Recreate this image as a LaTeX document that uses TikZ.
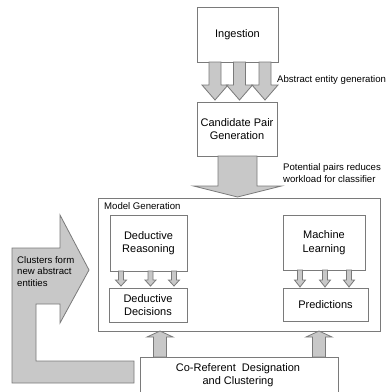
\documentclass[tikz,border=0pt]{standalone}
\usepackage{fontspec}
\setmainfont{Liberation Sans}
\newcommand{\varrow}[7]{%
  \filldraw[#7] ({#1-#5},#2) -- ({#1-#5},#3) -- ({#1-#6},#3) -- (#1,#4) -- ({#1+#6},#3) -- ({#1+#5},#3) -- ({#1+#5},#2) -- cycle;}
\begin{document}
\begin{tikzpicture}[x=1pt,y=-1pt,
  box/.style={draw=boxline, line width=0.9pt, fill=white, align=center, inner sep=0pt,
    font=\fontsize{11}{13.5}\selectfont},
  blk/.style={fill=arrowfill, draw=arrowline, line width=0.8pt, line join=miter},
  lbl/.style={inner sep=0pt, align=left, font=\fontsize{9.6}{11.5}\selectfont}]
\definecolor{boxline}{HTML}{7A7A7A}
\definecolor{arrowfill}{HTML}{C8C8C8}
\definecolor{arrowline}{HTML}{7A7A7A}
\useasboundingbox (0,0) rectangle (386,392);
\fill[white] (0,0) rectangle (386,392);

% boxes
\node[box, minimum width=81pt, minimum height=55pt] (ing) at (237.5,34.5) {Ingestion};
\node[box, minimum width=80pt, minimum height=54pt] (cand) at (237,129) {Candidate Pair\\Generation};
\node[box, minimum width=282pt, minimum height=133pt] (mg) at (239,264.5) {};
\node[lbl, anchor=west] (mgl) at (104,206) {Model Generation};
\node[box, minimum width=77pt, minimum height=56pt] (dr) at (148.5,243) {Deductive\\Reasoning};
\node[box, minimum width=78pt, minimum height=34pt] (dd) at (148,305) {Deductive\\Decisions};
\node[box, minimum width=82pt, minimum height=55pt] (ml) at (324,242.5) {Machine\\Learning};
\node[box, minimum width=85pt, minimum height=33pt] (pred) at (325.5,304.5) {Predictions};
\node[box, minimum width=198pt, minimum height=40pt] (cr) at (239,377) {};
\node[inner sep=0pt, align=center, font=\fontsize{11}{13.5}\selectfont] (crt) at (238,375) {Co-Referent~ Designation\\and Clustering};

% triple arrows Ingestion -> Candidate
\varrow{215}{62}{85}{100}{6}{13}{blk}
\varrow{239.5}{62}{85}{100}{6}{13}{blk}
\varrow{265}{62}{85}{100}{6}{13}{blk}
% big arrow Candidate -> Model Generation
\varrow{237.5}{156}{186}{197}{19.5}{44}{blk}
% small arrows DR -> DD
\varrow{121}{271}{280}{286}{2.5}{5.5}{blk}
\varrow{150.5}{271}{280}{286}{2.5}{5.5}{blk}
\varrow{174}{271}{280}{286}{2.5}{5.5}{blk}
% small arrows ML -> Pred
\varrow{300}{270}{280}{287}{2.5}{5.5}{blk}
\varrow{325}{270}{280}{287}{2.5}{5.5}{blk}
\varrow{349}{270}{280}{287}{2.5}{5.5}{blk}
% up arrows Co-Ref -> Model Generation
\varrow{160}{357}{337}{331}{6.5}{13}{blk}
\varrow{319}{357}{337}{331}{6.5}{13}{blk}

% L-shaped feedback arrow
\filldraw[blk] (12,248) -- (60,248) -- (60,215) -- (89,270) -- (60,323) -- (60,304)
  -- (36,304) -- (36,361) -- (134,361) -- (134,383) -- (12,383) -- cycle;

% labels
\node[lbl, anchor=north west] (cl) at (17,256) {Clusters form\\new abstract\\entities};
\node[lbl, anchor=west] (aeg) at (277,80) {Abstract entity generation};
\node[lbl, anchor=west] (pp) at (283,173) {Potential pairs reduces\\workload for classifier};
\end{tikzpicture}
\end{document}
